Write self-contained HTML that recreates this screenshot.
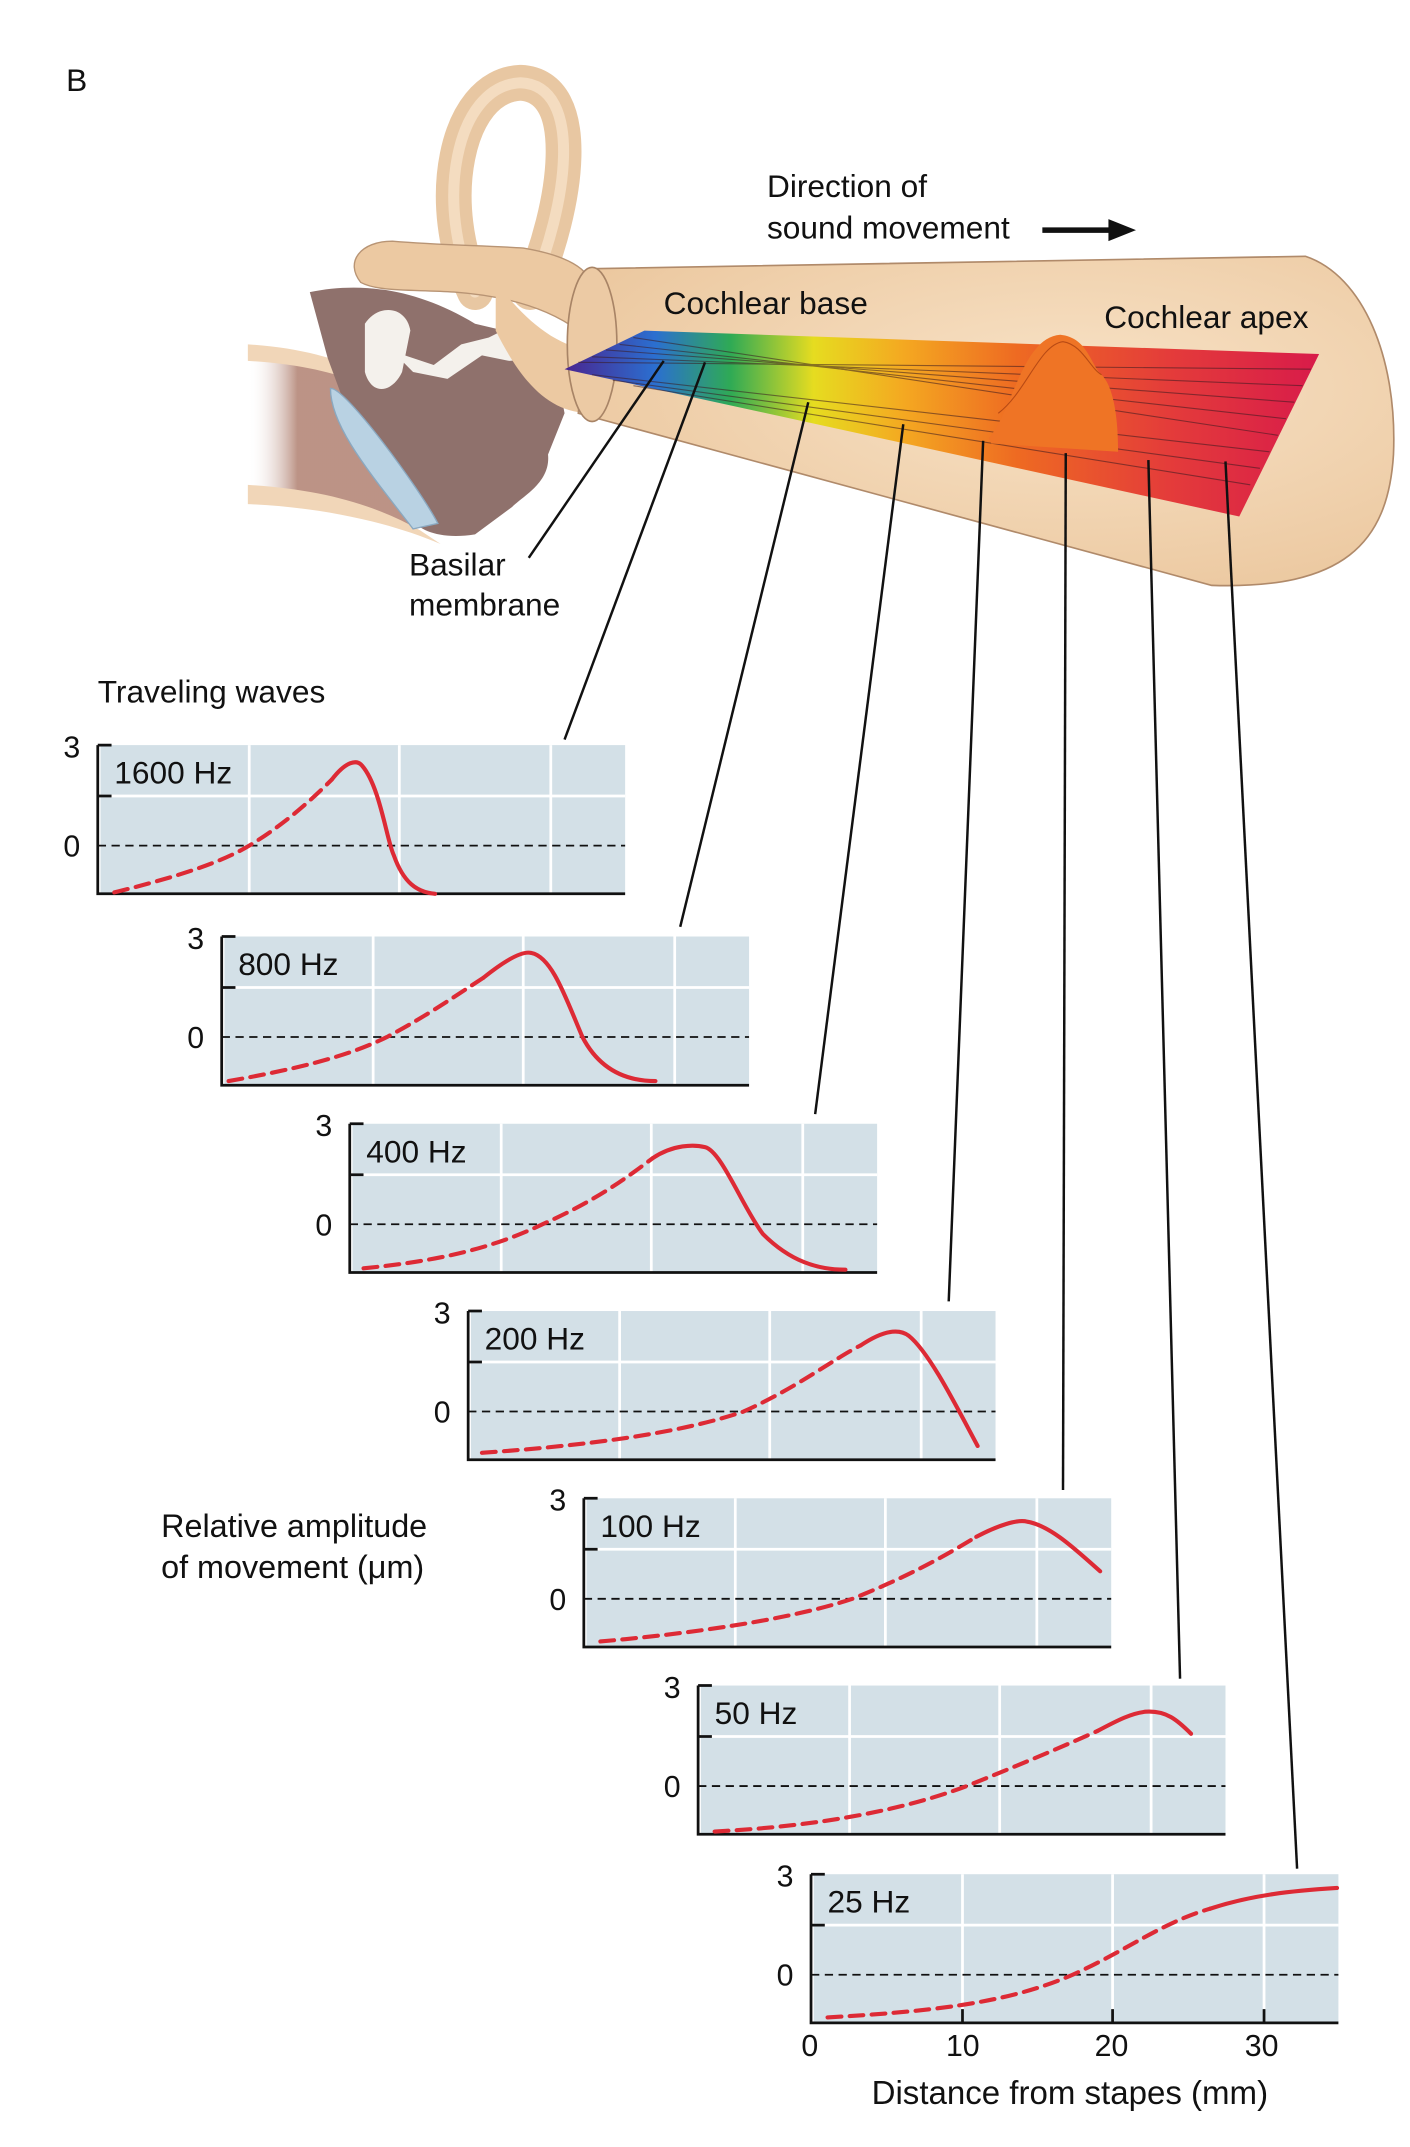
<!DOCTYPE html>
<html><head><meta charset="utf-8"><style>
html,body{margin:0;padding:0;background:#fff}
svg{display:block}
text{font-family:"Liberation Sans",Arial,sans-serif;fill:#111;stroke:none}
.c{fill:none;stroke:#dd2a35;stroke-width:3;stroke-linecap:round}
.d{stroke-dasharray:10 6}
</style></head><body>
<svg width="1410" height="2147" viewBox="0 0 1024 1559" xmlns="http://www.w3.org/2000/svg">
<defs>
<linearGradient id="mem" x1="410" y1="0" x2="958" y2="0" gradientUnits="userSpaceOnUse">
<stop offset="0" stop-color="#4a2590"/><stop offset="0.12" stop-color="#2b6fd0"/>
<stop offset="0.22" stop-color="#2faa55"/><stop offset="0.33" stop-color="#e6dc20"/>
<stop offset="0.45" stop-color="#f4a821"/><stop offset="0.6" stop-color="#ee6a22"/>
<stop offset="0.8" stop-color="#e43c3a"/><stop offset="1" stop-color="#d81b4a"/>
</linearGradient>
<radialGradient id="tube" cx="0.6" cy="0.4" r="0.7">
<stop offset="0" stop-color="#f8e2c6"/><stop offset="1" stop-color="#ebc79e"/>
</radialGradient>
<linearGradient id="canal" x1="0" y1="0" x2="1" y2="0">
<stop offset="0" stop-color="#fff" stop-opacity="0"/><stop offset="0.3" stop-color="#b08070"/>
</linearGradient>
<g id="chart">
<rect x="2" y="0" width="381" height="108" fill="#d3e0e7" stroke="none"/>
<line x1="0" y1="37" x2="383" y2="37" stroke="#fff" stroke-width="2"/>
<line x1="110" y1="0" x2="110" y2="108" stroke="#fff" stroke-width="2"/>
<line x1="219" y1="0" x2="219" y2="108" stroke="#fff" stroke-width="2"/>
<line x1="329" y1="0" x2="329" y2="108" stroke="#fff" stroke-width="2"/>
<line x1="0" y1="73" x2="383" y2="73" stroke="#111" stroke-width="1.3" stroke-dasharray="6 4"/>
<path d="M0,0 V108 H383 M0,0 H10 M0,37 H10" fill="none" stroke="#111" stroke-width="2"/>
<text x="-25" y="9" font-size="22">3</text>
<text x="-25" y="81" font-size="22">0</text>
</g>
</defs>

<!-- ear drawing -->
<path d="M180,262 C210,262 240,268 262,278 L300,385 C260,372 220,362 180,358 Z" fill="url(#canal)" opacity="0.85"/>
<path d="M180,250 C215,252 245,260 265,270 L270,282 C245,270 215,264 180,262 Z" fill="#f1d6b8"/>
<path d="M180,352 C230,355 270,365 305,385 L320,395 C280,378 230,368 180,366 Z" fill="#f1d6b8"/>
<path d="M225,212 C260,205 300,208 345,235 L400,248 L410,300 L398,330 C400,350 380,360 372,368 L345,388 C320,392 305,385 300,378 L262,325 L238,260 Z" fill="#8f716c"/>
<path d="M240,282 C250,280 305,355 318,380 L300,384 C270,345 240,310 240,282 Z" fill="#b9d2e3" stroke="#8aa8c0"/>
<path d="M265,235 C275,220 295,222 298,240 L292,270 C285,285 270,288 265,270 Z" fill="#f4f1ec"/>
<path d="M285,255 L315,265 L335,250 L355,245 L375,235 L392,240 L395,260 L370,262 L350,258 L325,275 L300,270 Z" fill="#f4f1ec"/>
<path d="M345,212 C315,150 330,62 378,60 C425,62 412,150 385,212" fill="none" stroke="#e8c7a2" stroke-width="26" stroke-linecap="round"/>
<path d="M345,212 C315,150 330,62 378,60 C425,62 412,150 385,212" fill="none" stroke="#f4dcc0" stroke-width="8" stroke-linecap="round"/>
<path d="M262,205 C250,190 262,175 285,175 C320,178 350,178 380,180 C410,185 430,195 430,210 L420,240 C400,225 370,215 330,212 C300,210 275,212 262,205 Z" fill="#ecc9a2" stroke="#b89474" stroke-width="1"/>
<path d="M360,205 C380,230 400,250 430,255 L430,300 C400,300 380,280 360,240 Z" fill="#ecc9a2"/>
<path d="M430,195 L948,186 C990,200 1015,260 1012,330 C1008,395 975,428 880,425 L420,300 Z" fill="url(#tube)" stroke="#b08a6a" stroke-width="1.2"/>
<ellipse cx="430" cy="250" rx="18" ry="56" fill="#eccaa4" stroke="#a88466" stroke-width="1.2"/>
<polygon points="410,268 468,240 958,257 900,375" fill="url(#mem)"/>
<g stroke="#3a1a20" stroke-width="0.8" opacity="0.55" fill="none">
<line x1="420" y1="263" x2="952" y2="268"/><line x1="430" y1="259" x2="946" y2="280"/>
<line x1="440" y1="254" x2="940" y2="292"/><line x1="450" y1="250" x2="934" y2="304"/>
<line x1="460" y1="245" x2="928" y2="316"/><line x1="430" y1="272" x2="922" y2="328"/>
<line x1="445" y1="276" x2="915" y2="340"/><line x1="460" y1="280" x2="908" y2="352"/>
</g>
<path d="M718,318 C735,300 742,245 770,243 C790,245 792,265 800,272 C808,280 812,300 812,328 L720,322 Z" fill="#ef7425"/>
<path d="M725,300 C745,285 755,250 772,248 C786,250 792,268 800,272" fill="none" stroke="#b84a14" stroke-width="0.8"/>

<!-- text top -->
<text x="48" y="66" font-size="23">B</text>
<text x="557" y="143" font-size="23">Direction of</text>
<text x="557" y="173" font-size="23">sound movement</text>
<line x1="757" y1="167" x2="808" y2="167" stroke="#111" stroke-width="4"/>
<polygon points="805,159 825,167 805,175" fill="#111"/>
<text x="482" y="228" font-size="23">Cochlear base</text>
<text x="802" y="238" font-size="23">Cochlear apex</text>
<text x="297" y="418" font-size="23">Basilar</text>
<text x="297" y="447" font-size="23">membrane</text>
<text x="71" y="510" font-size="23">Traveling waves</text>
<text x="117" y="1116" font-size="23.5">Relative amplitude</text>
<text x="117" y="1146" font-size="23.5">of movement (μm)</text>

<!-- connectors -->
<g stroke="#111" stroke-width="1.8">
<line x1="384" y1="405" x2="482" y2="262"/>
<line x1="410" y1="537" x2="512" y2="263"/>
<line x1="494" y1="673" x2="587" y2="292"/>
<line x1="592" y1="809" x2="656" y2="308"/>
<line x1="689" y1="945" x2="714" y2="320"/>
<line x1="772" y1="1082" x2="774" y2="329"/>
<line x1="857" y1="1219" x2="834" y2="334"/>
<line x1="942" y1="1357" x2="890" y2="335"/>
</g>

<!-- charts -->
<g transform="translate(71,541)"><use href="#chart"/><text x="12" y="28" font-size="23">1600 Hz</text>
<path class="c d" d="M12,107 C60,95 90,85 110,73 C135,58 155,40 170,25"/>
<path class="c" d="M170,25 C180,12 188,10 192,15 C205,30 210,70 215,80 C222,100 232,107 245,108"/></g>
<g transform="translate(161,680)"><use href="#chart"/><text x="12" y="28" font-size="23">800 Hz</text>
<path class="c d" d="M5,105 C50,97 90,88 120,73 C150,57 170,43 190,30"/>
<path class="c" d="M190,30 C205,18 218,10 225,12 C240,15 250,45 262,73 C275,98 295,105 315,105"/></g>
<g transform="translate(254,816)"><use href="#chart"/><text x="12" y="28" font-size="23">400 Hz</text>
<path class="c d" d="M10,105 C60,100 100,92 140,73 C180,55 200,40 220,25"/>
<path class="c" d="M220,25 C235,15 250,15 258,17 C270,20 285,60 300,80 C320,100 340,106 360,106"/></g>
<g transform="translate(340,952)"><use href="#chart"/><text x="12" y="28" font-size="23">200 Hz</text>
<path class="c d" d="M10,103 C80,98 150,90 200,73 C240,55 265,35 285,25"/>
<path class="c" d="M285,25 C300,15 312,12 320,18 C335,30 355,70 370,98"/></g>
<g transform="translate(424,1088)"><use href="#chart"/><text x="12" y="28" font-size="23">100 Hz</text>
<path class="c d" d="M12,104 C80,98 150,88 195,73 C240,55 265,40 285,28"/>
<path class="c" d="M285,28 C300,20 315,15 322,17 C340,20 360,40 375,53"/></g>
<g transform="translate(507,1224)"><use href="#chart"/><text x="12" y="28" font-size="23">50 Hz</text>
<path class="c d" d="M12,106 C90,102 150,90 195,73 C240,55 270,42 290,33"/>
<path class="c" d="M290,33 C305,25 315,20 325,19 C340,18 348,25 358,35"/></g>
<g transform="translate(589,1361)"><use href="#chart"/><text x="12" y="28" font-size="23">25 Hz</text>
<path class="c d" d="M12,104 C80,100 140,95 190,73 C230,55 255,35 290,25"/>
<path class="c" d="M290,25 C320,15 350,12 382,10"/>
<path d="M110,108 V98 M219,108 V98 M329,108 V98" stroke="#111" stroke-width="2"/>
<g font-size="22"><text x="-7" y="132">0</text><text x="98" y="132">10</text><text x="206" y="132">20</text><text x="315" y="132">30</text></g>
</g>
<text x="633" y="1528" font-size="24">Distance from stapes (mm)</text>
</svg>
</body></html>
